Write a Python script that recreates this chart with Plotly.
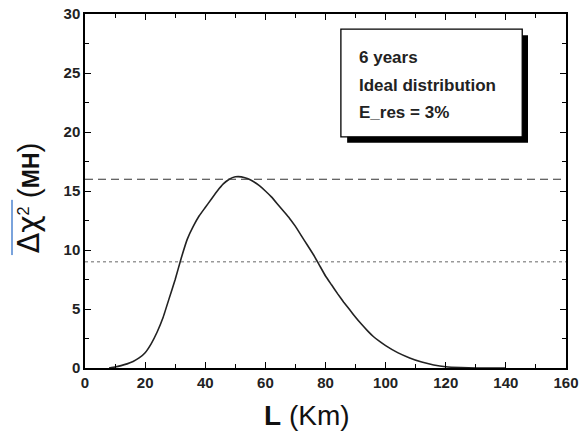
import plotly.graph_objects as go

# Data
L_km = [8, 10, 12, 14, 16, 18, 20, 22, 24, 26, 28, 30, 32, 34, 36, 38, 40, 42, 44, 46, 48,
        50, 52, 54, 56, 58, 60, 62, 64, 66, 68, 70, 72, 74, 76, 78, 80, 82, 84, 86, 88,
        90, 92, 94, 96, 98, 100, 104, 108, 112, 116, 120, 125, 130, 140]
dchi2 = [0.0, 0.08, 0.2, 0.35, 0.55, 0.85, 1.3, 2.05, 3.05, 4.3, 5.9, 7.5, 9.3, 10.9, 12.0, 12.9, 13.6, 14.3, 15.0, 15.6, 16.0,
         16.2, 16.2, 16.05, 15.8, 15.45, 15.0, 14.5, 13.9, 13.3, 12.7, 12.0, 11.2, 10.4, 9.6, 8.7, 7.8, 7.05, 6.3, 5.6, 4.95,
         4.3, 3.7, 3.15, 2.65, 2.25, 1.9, 1.3, 0.85, 0.5, 0.25, 0.1, 0.03, 0.0, 0.0]
level_dashed = 16
level_dotted = 9
x_range = [0, 160]
y_range = [0, 30]
box_lines = ["6 years", "Ideal distribution", "E_res = 3%"]

FONT = "Liberation Sans, Arial, sans-serif"

fig = go.Figure()
fig.add_trace(go.Scatter(x=L_km, y=dchi2, mode="lines",
                         line=dict(color="#222", width=1.6, shape="spline", smoothing=0.3),
                         showlegend=False))
fig.add_trace(go.Scatter(x=x_range, y=[level_dashed, level_dashed], mode="lines",
                         line=dict(color="#333", width=1.1, dash="8px,5px"), showlegend=False))
fig.add_trace(go.Scatter(x=x_range, y=[level_dotted, level_dotted], mode="lines",
                         line=dict(color="#999", width=1.4, dash="dot"), showlegend=False))

axis_common = dict(showgrid=False, zeroline=False, showline=True, linecolor="black", linewidth=1.5,
                   mirror="allticks", ticks="inside", tickcolor="black", tickwidth=1.2, ticklen=6,
                   automargin=False,
                   tickfont=dict(family=FONT, size=15, color="#222", weight="bold"))

fig.update_xaxes(range=x_range, dtick=20, tick0=0,
                 minor=dict(ticks="inside", dtick=10, ticklen=4, tickcolor="black", tickwidth=1.2),
                 **axis_common)
fig.update_yaxes(range=y_range, dtick=5, tick0=0,
                 minor=dict(ticks="inside", dtick=2.5, ticklen=4, tickcolor="black", tickwidth=1.2),
                 **axis_common)

# Axis titles
fig.add_annotation(xref="paper", yref="paper", x=0.462, y=-0.085, yanchor="top", showarrow=False,
                   text="<b>L</b> (Km)", font=dict(family=FONT, size=28, color="#111"))
fig.add_annotation(xref="paper", yref="paper", x=-0.118, y=0.48, xanchor="center", showarrow=False,
                   textangle=-90,
                   text=("<span style='font-size:30px;font-family:DejaVu Sans'>Δχ</span><sup>2</sup>"
                         "<span style='font-size:30px'> (</span><b>MH</b><span style='font-size:30px'>)</span>"),
                   font=dict(family=FONT, size=23, color="#111"))
# overline bar of the y title
fig.add_shape(type="line", xref="paper", yref="paper", x0=-0.1518, x1=-0.1518, y0=0.319, y1=0.475,
              line=dict(color="#7aa3dc", width=2))

# Text box with shadow
fig.add_shape(type="rect", xref="paper", yref="paper", x0=0.545, x1=0.921, y0=0.636, y1=0.940,
              fillcolor="black", line=dict(width=0), layer="above")
fig.add_shape(type="rect", xref="paper", yref="paper", x0=0.532, x1=0.909, y0=0.653, y1=0.957,
              fillcolor="white", line=dict(color="black", width=1.3), layer="above")
for i, t in enumerate(box_lines):
    fig.add_annotation(xref="paper", yref="paper", x=0.566, y=0.876 - i * 0.077, xanchor="left",
                       yanchor="middle", showarrow=False, text=t,
                       font=dict(family=FONT, size=17, color="#222", weight="bold"))

fig.update_layout(width=580, height=432, margin=dict(l=85, r=14, t=14, b=64, autoexpand=False),
                  paper_bgcolor="white", plot_bgcolor="white")
fig.write_html("out.html", config={"displayModeBar": False},
               post_script="document.body.style.margin='0';document.body.style.overflow='hidden';")
